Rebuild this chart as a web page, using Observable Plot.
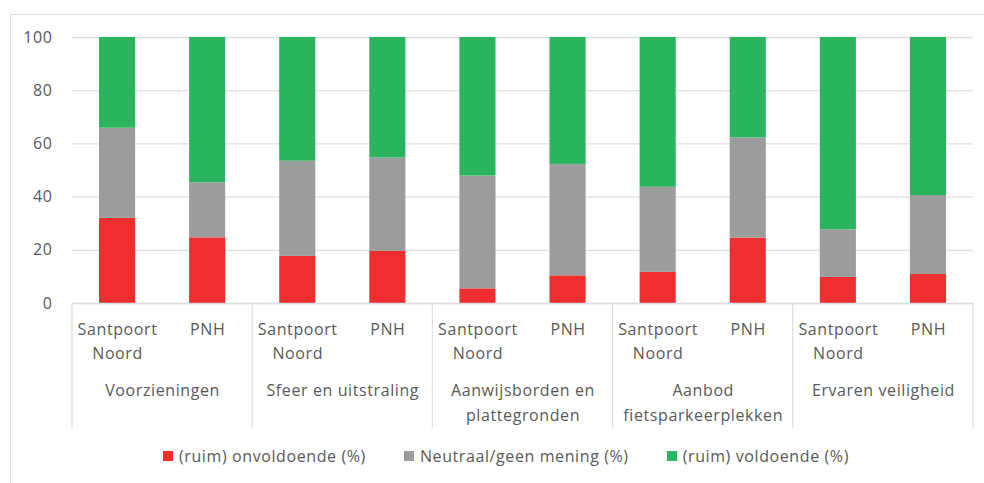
<!DOCTYPE html>
<html>
<head>
<meta charset="utf-8">
<script src="https://cdn.jsdelivr.net/npm/d3@7"></script>
<script src="https://cdn.jsdelivr.net/npm/@observablehq/plot@0.6"></script>
<style>
  html, body { margin: 0; padding: 0; background: #fff; overflow: hidden; width: 984px; height: 483px; }
  #frame { position: absolute; left: 10px; top: 14px; width: 990px; height: 490px; border: 1px solid #d9dde2; box-sizing: border-box; }
  #chart { position: absolute; left: 0; top: 0; }
  #legend { position: absolute; left: 163px; top: 446px; display: flex; gap: 38px; font-family: "Open Sans", sans-serif; font-size: 16px; letter-spacing: 0.6px; color: #595959; line-height: 20px; white-space: nowrap; }
  #legend .item { display: flex; align-items: center; }
  #legend .sw { width: 10px; height: 10px; margin-right: 6px; }
</style>
</head>
<body>
<div id="frame"></div>
<div id="chart"></div>
<div id="legend"></div>
<script>
const groups = ["Voorzieningen", "Sfeer en uitstraling", "Aanwijsborden en\nplattegronden", "Aanbod\nfietsparkeerplekken", "Ervaren veiligheid"];
const regions = ["Santpoort\nNoord", "PNH"];
const categories = ["(ruim) onvoldoende (%)", "Neutraal/geen mening (%)", "(ruim) voldoende (%)"];
const colors = ["#ee2e2f", "#9b9d9d", "#2bb45e"];
const onvoldoende = [32, 24.7, 17.7, 19.7, 5.5, 10.4, 11.7, 24.6, 9.8, 10.9];
const neutraal = [33.9, 20.7, 35.8, 35, 42.4, 41.9, 32, 37.7, 17.9, 29.7];
const voldoende = [34.1, 54.6, 46.5, 45.3, 52.1, 47.7, 56.3, 37.7, 72.3, 59.4];
const yTicks = [0, 20, 40, 60, 80, 100];

const series = [onvoldoende, neutraal, voldoende];
const bars = [];
const rows = [];
groups.forEach((g, gi) => {
  regions.forEach((r, ri) => {
    const i = gi * regions.length + ri;
    bars.push({i, group: g, region: r});
    let base = 0;
    series.forEach((s, si) => {
      rows.push({i, cat: categories[si], y1: base, y2: base + s[i]});
      base += s[i];
    });
  });
});
const groupRows = groups.map((g, gi) => ({g, c: gi * regions.length + regions.length / 2}));
const seps = d3.range(0, groups.length + 1).map(k => k * regions.length);

const gridColor = "#dadfe4";
const plot = Plot.plot({
  width: 984,
  height: 440,
  marginLeft: 72,
  marginRight: 11,
  marginTop: 37,
  marginBottom: 137,
  style: {fontFamily: "Open Sans, sans-serif", fontSize: "16px", color: "#595959", letterSpacing: "0.6px", background: "transparent", overflow: "visible"},
  x: {domain: [0, bars.length], axis: null},
  y: {domain: [0, 100], axis: null},
  color: {domain: categories, range: colors},
  marks: [
    Plot.ruleY(yTicks, {stroke: gridColor, strokeWidth: 1.3}),
    Plot.axisY(yTicks, {tickSize: 0, tickPadding: 20, tickFormat: d => d, fill: "#595959"}),
    Plot.rect(rows, {x1: d => d.i, x2: d => d.i + 1, y1: "y1", y2: "y2", fill: "cat", insetLeft: 27, insetRight: 27}),
    Plot.ruleY([0], {stroke: gridColor, strokeWidth: 1.3}),
    Plot.text(bars, {x: d => d.i + 0.5, y: 0, text: "region", lineAnchor: "top", lineHeight: 1.48, dy: 15, fill: "#595959"}),
    Plot.text(groupRows, {x: "c", y: 0, text: "g", lineAnchor: "top", lineHeight: 1.55, dy: 75, fill: "#595959"})
  ]
});
document.getElementById("chart").appendChild(plot);

// separators for the hierarchical category axis, positioned through the plot's scales
const xs = plot.scale("x"), ys = plot.scale("y");
const y0 = ys.apply(0);
d3.select(plot).append("g").selectAll("line").data(seps).join("line")
  .attr("x1", d => xs.apply(d)).attr("x2", d => xs.apply(d))
  .attr("y1", y0).attr("y2", y0 + 125)
  .attr("stroke", gridColor).attr("stroke-width", 1.3);

const legend = d3.select("#legend");
categories.forEach((c, i) => {
  const it = legend.append("div").attr("class", "item");
  it.append("div").attr("class", "sw").style("background", colors[i]);
  it.append("span").text(c);
});
</script>
</body>
</html>
